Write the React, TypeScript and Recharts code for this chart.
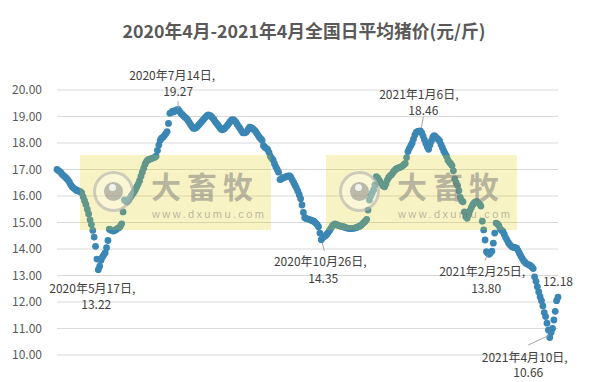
import { ScatterChart, Scatter, XAxis, YAxis, CartesianGrid } from 'recharts';

// daily national average pig price (yuan/jin), one value per day from 2020-04-17
const apr2020 = [17.0, 16.96, 16.92, 16.87, 16.8, 16.76, 16.71, 16.66, 16.6, 16.52, 16.42, 16.35, 16.3, 16.26];
const may2020 = [16.22, 16.2, 16.18, 16.16, 16.12, 15.97, 15.82, 15.68, 15.5, 15.32, 15.1, 14.92, 14.7, 14.45, 14.1, 13.62, 13.22, 13.35, 13.58, 13.7, 13.78, 13.85, 14.05, 14.32, 14.75, 14.72, 14.7, 14.68, 14.7, 14.74, 14.78];
const jun2020 = [14.8, 14.86, 14.95, 15.4, 15.85, 15.8, 15.78, 15.84, 15.92, 16.0, 16.08, 16.15, 16.25, 16.35, 16.45, 16.58, 16.75, 16.9, 17.05, 17.2, 17.3, 17.36, 17.38, 17.4, 17.42, 17.44, 17.46, 17.5, 17.72, 17.92];
const jul2020 = [18.1, 18.18, 18.22, 18.28, 18.35, 18.43, 18.74, 19.12, 19.15, 19.2, 19.18, 19.22, 19.25, 19.27, 19.2, 19.12, 19.08, 19.02, 18.97, 18.93, 18.86, 18.78, 18.7, 18.62, 18.56, 18.55, 18.58, 18.62, 18.68, 18.74, 18.8];
const aug2020 = [18.86, 18.92, 18.98, 19.03, 19.06, 19.04, 19.0, 18.95, 18.88, 18.8, 18.74, 18.67, 18.6, 18.53, 18.5, 18.52, 18.56, 18.62, 18.68, 18.75, 18.82, 18.87, 18.88, 18.84, 18.78, 18.7, 18.62, 18.55, 18.46, 18.39, 18.38];
const sep2020 = [18.4, 18.44, 18.52, 18.6, 18.58, 18.55, 18.5, 18.46, 18.38, 18.3, 18.22, 18.16, 18.1, 17.9, 17.84, 17.8, 17.76, 17.65, 17.5, 17.42, 17.36, 17.22, 17.1, 17.0, 16.9, 16.62, 16.64, 16.68, 16.7, 16.72];
const oct2020 = [16.74, 16.76, 16.76, 16.7, 16.6, 16.5, 16.4, 16.3, 16.18, 16.05, 15.9, 15.66, 15.38, 15.18, 15.15, 15.14, 15.12, 15.1, 15.08, 15.06, 15.03, 14.98, 14.92, 14.84, 14.6, 14.35, 14.42, 14.46, 14.5, 14.55, 14.62];
const nov2020 = [14.7, 14.78, 14.86, 14.92, 14.95, 14.93, 14.9, 14.88, 14.86, 14.85, 14.84, 14.82, 14.8, 14.79, 14.78, 14.77, 14.77, 14.78, 14.79, 14.8, 14.82, 14.84, 14.86, 14.9, 14.95, 15.0, 15.05, 15.12, 15.47, 15.85];
const dec2020 = [16.0, 16.12, 16.23, 16.42, 16.73, 16.68, 16.6, 16.52, 16.45, 16.38, 16.35, 16.45, 16.6, 16.7, 16.76, 16.8, 16.88, 16.95, 17.0, 17.04, 17.06, 17.08, 17.1, 17.14, 17.18, 17.23, 17.45, 17.68, 17.8, 17.9, 17.99];
const jan2021 = [18.15, 18.3, 18.4, 18.44, 18.45, 18.46, 18.38, 18.26, 18.12, 17.98, 17.86, 17.76, 17.92, 18.08, 18.22, 18.28, 18.24, 18.18, 18.14, 18.08, 17.94, 17.82, 17.7, 17.6, 17.5, 17.36, 17.28, 17.22, 17.15, 16.95, 16.65];
const feb2021 = [16.5, 16.4, 16.2, 15.95, 15.82, 15.78, 15.4, 15.22, 15.16, 15.3, 15.45, 15.56, 15.66, 15.74, 15.78, 15.8, 15.76, 15.7, 15.62, 15.05, 14.72, 14.34, 13.9, 13.84, 13.8, 13.86, 13.92, 14.22];
const mar2021 = [14.6, 14.98, 14.95, 14.88, 14.76, 14.7, 14.66, 14.55, 14.42, 14.34, 14.24, 14.16, 14.1, 14.08, 14.06, 14.05, 14.03, 13.94, 13.84, 13.74, 13.65, 13.56, 13.5, 13.45, 13.42, 13.4, 13.37, 13.32, 13.26, 12.95, 12.78];
const apr2021 = [12.58, 12.38, 12.2, 12.05, 11.85, 11.6, 11.45, 11.2, 10.94, 10.66, 10.85, 11.0, 11.32, 11.65, 12.05, 12.18];

const prices = [
  ...apr2020, ...may2020, ...jun2020, ...jul2020, ...aug2020, ...sep2020, ...oct2020,
  ...nov2020, ...dec2020, ...jan2021, ...feb2021, ...mar2021, ...apr2021,
];

const yTicks = [10, 11, 12, 13, 14, 15, 16, 17, 18, 19, 20];

const calloutDates = ['2020-05-17', '2020-07-14', '2020-10-26', '2021-01-06', '2021-02-25', '2021-04-10', '2021-04-16'];

const TITLE = '2020年4月-2021年4月全国日平均猪价(元/斤)';
const FONT = '"Noto Sans CJK SC", "Noto Sans", sans-serif';
const DOT = '#3a86b4';

const start = Date.UTC(2020, 3, 17);
const toIso = (i: number) => new Date(start + i * 86400000).toISOString().slice(0, 10);

const series = prices.map((price, day) => ({ day, date: toIso(day), price }));
const callouts = series.filter((p) => calloutDates.includes(p.date));

// where each callout's text sits, relative to its point
type Place = { date?: [number, number]; value: [number, number]; leader?: [number, number, number, number] };
const placement: Record<string, Place> = {
  '2020-05-17': { date: [-6, 18], value: [-2, 34] },
  '2020-07-14': { date: [-6, -35], value: [0, -18.5], leader: [0, -8, 0, -1] },
  '2020-10-26': { date: [-1, 21], value: [2, 37.5], leader: [1, 3, 3, 11] },
  '2021-01-06': { date: [-1.5, -37.5], value: [3, -21.5], leader: [3, -14, 1, -3] },
  '2021-02-25': { date: [-7, 16.5], value: [-3, 33], leader: [-2, 1, -4, 6] },
  '2021-04-10': { date: [-25, 18.5], value: [-21.5, 34], leader: [-1, -2, -21.5, 7.5] },
  '2021-04-16': { value: [0, -17] },
};

const Dot = (props: any) => <circle cx={props.cx} cy={props.cy} r={3.4} fill={DOT} />;

const Callout = (props: any) => {
  const { cx, cy, payload } = props;
  const p = placement[payload.date];
  if (!p) return <g />;
  const [y, m, d] = payload.date.split('-').map(Number);
  const txt = { textAnchor: 'middle' as const, dominantBaseline: 'central' as const, fontSize: 12, fill: '#404040' };
  return (
    <g>
      {p.leader && (
        <line x1={cx + p.leader[0]} y1={cy + p.leader[1]} x2={cx + p.leader[2]} y2={cy + p.leader[3]} stroke="#a6a6a6" strokeWidth={1} />
      )}
      {p.date && (
        <text x={cx + p.date[0]} y={cy + p.date[1]} {...txt}>{`${y}年${m}月${d}日,`}</text>
      )}
      <text x={cx + p.value[0]} y={cy + p.value[1]} {...txt}>{payload.price.toFixed(2)}</text>
    </g>
  );
};

const Watermark = ({ left }: { left: number }) => (
  <div style={{ position: 'absolute', left, top: 155, width: 191, height: 75, background: 'rgba(225,205,10,0.24)', pointerEvents: 'none' }}>
    <div style={{ position: 'absolute', left: 13, top: 16, width: 41, height: 41, borderRadius: '50%', boxSizing: 'border-box', border: '3px solid rgba(150,150,150,0.45)', background: 'rgba(255,255,255,0.3)' }} />
    <div style={{ position: 'absolute', left: 24, top: 27, width: 19, height: 19, borderRadius: '50%', background: 'rgba(110,110,110,0.45)' }} />
    <div style={{ position: 'absolute', left: 29, top: 29, width: 7, height: 7, borderRadius: '50%', background: 'rgba(255,255,255,0.8)' }} />
    <div style={{ position: 'absolute', left: 71, top: 15, fontSize: 30, lineHeight: '30px', letterSpacing: 6, fontWeight: 700, color: 'rgba(120,120,120,0.5)', whiteSpace: 'nowrap' }}>
      大畜牧
    </div>
    <div style={{ position: 'absolute', left: 72, top: 53, fontSize: 11, lineHeight: '13px', letterSpacing: 2.4, color: 'rgba(120,120,120,0.5)', whiteSpace: 'nowrap', fontFamily: '"Liberation Sans", sans-serif' }}>
      www.dxumu.com
    </div>
  </div>
);

export default function App() {
  return (
    <div style={{ position: 'relative', width: 592, height: 382, overflow: 'hidden', background: '#fff', fontFamily: FONT }}>
      <style>{'body{margin:0}'}</style>
      <ScatterChart width={592} height={382} margin={{ top: 90, right: 34, bottom: 27, left: 0 }}>
        <CartesianGrid vertical={false} stroke="#d9d9d9" />
        <XAxis type="number" dataKey="day" domain={[0, prices.length - 1]} hide />
        <YAxis
          type="number"
          dataKey="price"
          domain={[10, 20]}
          ticks={yTicks}
          tickFormatter={(v: number) => v.toFixed(2)}
          axisLine={false}
          tickLine={false}
          tickSize={0}
          tickMargin={15}
          width={57}
          tick={{ fontSize: 12, fill: '#595959' }}
        />
        <Scatter data={series} shape={Dot} isAnimationActive={false} />
        <Scatter data={callouts} shape={Callout} isAnimationActive={false} />
      </ScatterChart>
      <div style={{ position: 'absolute', left: 12, top: 19, width: 584, textAlign: 'center', fontSize: 17.8, lineHeight: '23px', fontWeight: 700, color: '#595959', whiteSpace: 'nowrap' }}>
        {TITLE}
      </div>
      <Watermark left={80} />
      <Watermark left={326} />
    </div>
  );
}
